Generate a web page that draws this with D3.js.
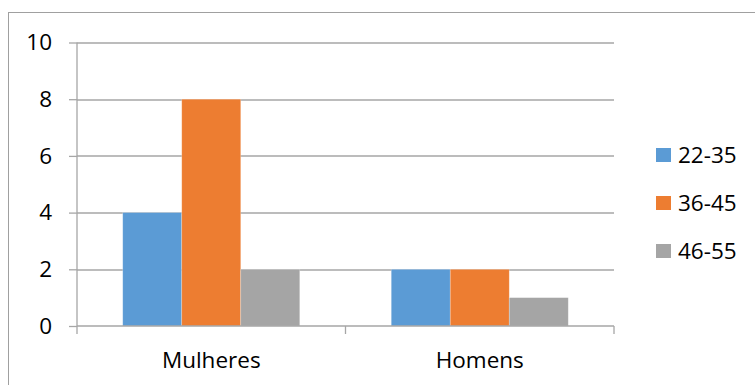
<!DOCTYPE html>
<html>
<head>
<meta charset="utf-8">
<script src="https://cdn.jsdelivr.net/npm/d3@7"></script>
<style>
  body { margin: 0; background: #fff; }
  svg text { font-family: "Open Sans", sans-serif; fill: #000; }
</style>
</head>
<body>
<div id="my_dataviz"></div>
<script>
// data
var categories = ["Mulheres", "Homens"];
var seriesNames = ["22-35", "36-45", "46-55"];
var seriesValues = [
  [4, 2],   // 22-35
  [8, 2],   // 36-45
  [2, 1]    // 46-55
];
var yTicks = [0, 2, 4, 6, 8, 10];
var colors = ["#5b9bd5", "#ed7d31", "#a5a5a5"];

var W = 755, H = 385;
var margin = {top: 42.5, left: 77, right: 141, bottom: 59};
var width = W - margin.left - margin.right,
    height = H - margin.top - margin.bottom;
var fontSize = "22.5px";

var svg = d3.select("#my_dataviz")
  .append("svg")
  .attr("width", W)
  .attr("height", H);

// chart border
svg.append("rect")
  .attr("x", 8.5).attr("y", 12.5)
  .attr("width", 800).attr("height", 400)
  .attr("fill", "none")
  .attr("stroke", "#a0a0a0")
  .attr("stroke-width", 1);

var g = svg.append("g")
  .attr("transform", "translate(" + margin.left + "," + margin.top + ")");

var x = d3.scaleBand().domain(categories).range([0, width]);
var xs = d3.scaleBand().domain(seriesNames).range([0, x.bandwidth()])
  .paddingInner(0).paddingOuter(0.775);
var y = d3.scaleLinear().domain([0, 10]).range([height, 0]);

// gridlines
g.selectAll("grid")
  .data(yTicks.filter(function(d){ return d > 0; }))
  .enter()
  .append("line")
  .attr("x1", 0).attr("x2", width)
  .attr("y1", function(d){ return Math.round(y(d)) + 0.5; })
  .attr("y2", function(d){ return Math.round(y(d)) + 0.5; })
  .attr("stroke", "#a6a6a6")
  .attr("stroke-width", 1.3);

// bars
var rows = [];
categories.forEach(function(c, i) {
  seriesNames.forEach(function(s, j) {
    rows.push({cat: c, ser: s, value: seriesValues[j][i], color: colors[j]});
  });
});
g.selectAll("bars")
  .data(rows)
  .enter()
  .append("rect")
  .attr("x", function(d){ return x(d.cat) + xs(d.ser); })
  .attr("y", function(d){ return y(d.value); })
  .attr("width", xs.bandwidth())
  .attr("height", function(d){ return height - y(d.value); })
  .attr("fill", function(d){ return d.color; })
  .attr("stroke", "#fff")
  .attr("stroke-opacity", 0.35)
  .attr("stroke-width", 0.7);

// y axis
var yAxis = g.append("g")
  .call(d3.axisLeft(y).tickValues(yTicks).tickSize(8).tickPadding(17).tickFormat(d3.format("d")));
yAxis.selectAll("line").attr("stroke", "#a6a6a6").attr("stroke-width", 1.3);
yAxis.select(".domain").attr("stroke", "#a6a6a6").attr("stroke-width", 1.3).attr("d", "M0," + height + "V0");
yAxis.selectAll("text").style("font-size", fontSize).attr("font-family", null);

// x axis
var xAxis = g.append("g")
  .attr("transform", "translate(0," + height + ")")
  .call(d3.axisBottom(x).tickSize(0).tickPadding(26));
xAxis.select(".domain").attr("stroke", "#a6a6a6").attr("stroke-width", 1.3).attr("d", "M0,0H" + width);
xAxis.selectAll("text").style("font-size", fontSize).attr("font-family", null);

// category boundary ticks
var bounds = categories.map(function(c){ return x(c); }).concat([width]);
g.selectAll("xticks")
  .data(bounds)
  .enter()
  .append("line")
  .attr("x1", function(d){ return d; }).attr("x2", function(d){ return d; })
  .attr("y1", height).attr("y2", height + 8)
  .attr("stroke", "#a6a6a6")
  .attr("stroke-width", 1.3);

// legend
var legend = svg.selectAll("legend")
  .data(seriesNames)
  .enter()
  .append("g")
  .attr("transform", function(d, i){ return "translate(656," + (148 + i * 48) + ")"; });
legend.append("rect")
  .attr("width", 15).attr("height", 14)
  .attr("fill", function(d, i){ return colors[i]; });
legend.append("text")
  .attr("x", 22).attr("y", 7)
  .attr("dy", "0.35em")
  .style("font-size", fontSize)
  .text(function(d){ return d; });
</script>
</body>
</html>
